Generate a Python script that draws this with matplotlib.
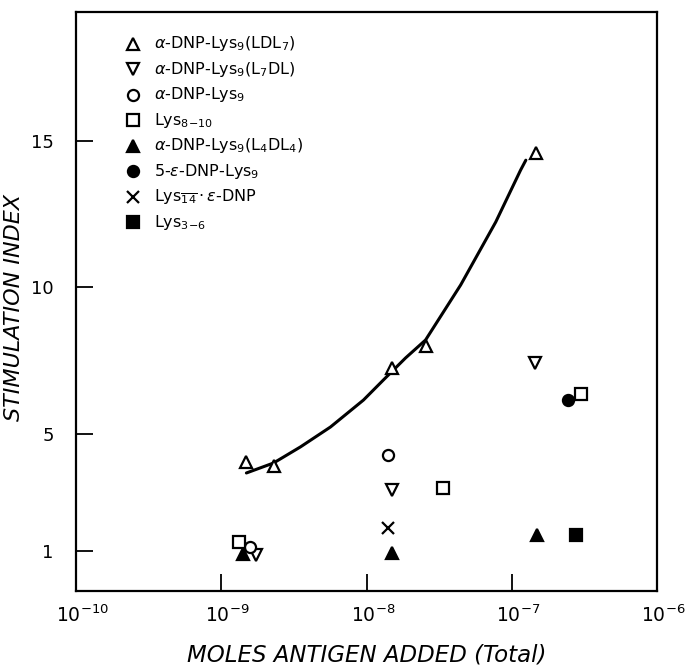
import matplotlib.pyplot as plt
import matplotlib.transforms as mtransforms
from matplotlib.ticker import FixedLocator, NullLocator, LogFormatterMathtext

# alpha-DNP-Lys9(LDL7), open triangles
ldl7_x = [1.49e-9, 2.29e-9, 1.49e-8, 2.55e-8, 1.47e-7]
ldl7_y = [4.04, 3.90, 7.25, 8.0, 14.58]
# alpha-DNP-Lys9(L7DL), open inverted triangles
l7dl_x = [1.74e-9, 1.51e-8, 1.44e-7]
l7dl_y = [0.86, 3.08, 7.42]
# alpha-DNP-Lys9, open circles
lys9_x = [1.58e-9, 1.40e-8]
lys9_y = [1.14, 4.28]
# Lys8-10, open squares
lys810_x = [1.33e-9, 3.34e-8, 2.99e-7]
lys810_y = [1.31, 3.15, 6.36]
# alpha-DNP-Lys9(L4DL4), filled triangles
l4dl4_x = [1.42e-9, 1.49e-8, 1.49e-7]
l4dl4_y = [0.90, 0.93, 1.55]
# 5-eps-DNP-Lys9, filled circle
eps_x = [2.43e-7]
eps_y = [6.15]
# Lys14-eps-DNP, cross
lys14_x = [1.40e-8]
lys14_y = [1.78]
# Lys3-6, filled square
lys36_x = [2.76e-7]
lys36_y = [1.55]

# hand drawn curve through the LDL7 points
curve_x = [1.49e-9, 2.29e-9, 3.51e-9, 5.65e-9, 9.53e-9, 1.31e-8, 1.86e-8, 2.55e-8,
           4.45e-8, 7.76e-8, 1.15e-7, 1.25e-7]
curve_y = [3.66, 4.00, 4.55, 5.23, 6.15, 6.84, 7.59, 8.20, 10.08, 12.23, 14.0, 14.34]

etiquetas = [
    r'$\alpha$-DNP-Lys$_9$(LDL$_7$)',
    r'$\alpha$-DNP-Lys$_9$(L$_7$DL)',
    r'$\alpha$-DNP-Lys$_9$',
    r'Lys$_{8\mathrm{-}10}$',
    r'$\alpha$-DNP-Lys$_9$(L$_4$DL$_4$)',
    r'5-$\epsilon$-DNP-Lys$_9$',
    r'Lys$_{\overline{14}}\cdot\epsilon$-DNP',
    r'Lys$_{3\mathrm{-}6}$',
]

fig = plt.figure(figsize=(6.86, 6.69), dpi=100)
ax = fig.add_axes([76 / 686, 1 - 591 / 669, 581 / 686, 579 / 669])

kw = dict(linestyle='none', markersize=8, markeredgewidth=1.6, color='black')
series = [
    (ldl7_x, ldl7_y, dict(marker='^', markerfacecolor='white')),
    (l7dl_x, l7dl_y, dict(marker='v', markerfacecolor='white')),
    (lys9_x, lys9_y, dict(marker='o', markerfacecolor='white')),
    (lys810_x, lys810_y, dict(marker='s', markerfacecolor='white')),
    (l4dl4_x, l4dl4_y, dict(marker='^', markerfacecolor='black')),
    (eps_x, eps_y, dict(marker='o', markerfacecolor='black')),
    (lys14_x, lys14_y, dict(marker='x', markersize=9)),
    (lys36_x, lys36_y, dict(marker='s', markerfacecolor='black')),
]

ax.plot(curve_x, curve_y, color='black', linewidth=2.2, solid_capstyle='round',
        solid_joinstyle='round')
for xs, ys, estilo in series:
    opciones = dict(kw)
    opciones.update(estilo)
    ax.plot(xs, ys, zorder=3, **opciones)

ax.set_xscale('log')
ax.set_xlim(1e-10, 1e-6)
ax.set_ylim(-0.37, 19.4)

ax.xaxis.set_major_locator(FixedLocator([1e-10, 1e-9, 1e-8, 1e-7, 1e-6]))
ax.xaxis.set_major_formatter(LogFormatterMathtext())
ax.xaxis.set_minor_locator(NullLocator())
ax.yaxis.set_major_locator(FixedLocator([1, 5, 10, 15]))

ax.tick_params(axis='x', direction='in', length=12, width=1.3, labelsize=13.5, pad=10,
               top=False)
ax.tick_params(axis='y', direction='in', length=12, width=1.3, labelsize=13, pad=16,
               right=False)
for lado in ax.spines.values():
    lado.set_linewidth(1.6)

# the base "10" sits on the tick, the exponent hangs to the right
desplazar = mtransforms.ScaledTranslation(4.5 / 72, 0, fig.dpi_scale_trans)
for etiqueta in ax.get_xticklabels():
    etiqueta.set_transform(etiqueta.get_transform() + desplazar)

ax.set_xlabel('MOLES ANTIGEN ADDED (Total)', fontsize=16.5, style='italic', labelpad=12)
ax.set_ylabel('STIMULATION INDEX', fontsize=16, style='italic')
ax.yaxis.set_label_coords(-0.09, 0.49)

# legend drawn by hand, markers on the left and text beside
leyenda_estilos = [s[2] for s in series]
for i, (texto, estilo) in enumerate(zip(etiquetas, leyenda_estilos)):
    yy = 0.945 - i * 0.044
    opciones = dict(kw)
    opciones.update(estilo)
    ax.plot([0.098], [yy], transform=ax.transAxes, clip_on=False, **opciones)
    ax.text(0.135, yy, texto, transform=ax.transAxes, fontsize=11.5, va='center', ha='left')

fig.savefig('out.png', dpi=100)
